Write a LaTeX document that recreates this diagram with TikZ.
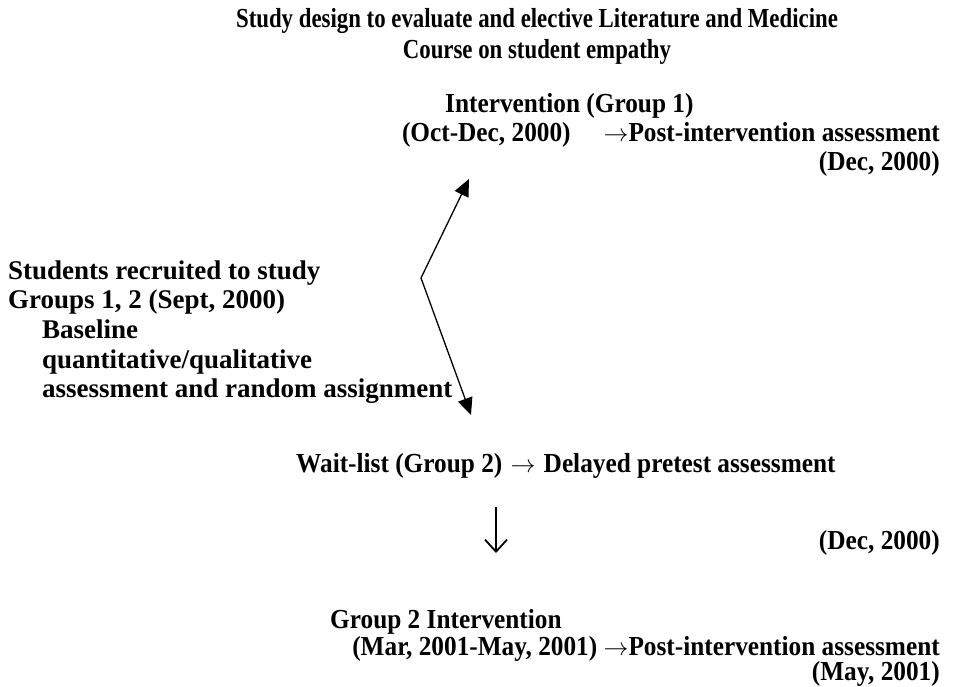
\documentclass[tikz,border=0pt]{standalone}
\usepackage{fontspec}
\setmainfont{Liberation Serif}
\newfontfamily\cond[FakeStretch=0.92]{Liberation Serif}
\newfontfamily\condt[FakeStretch=0.83]{Liberation Serif}
\usetikzlibrary{arrows.meta}
\begin{document}
\begin{tikzpicture}[x=1pt,y=-1pt,
  ttl/.style={inner sep=0pt,anchor=base,font=\condt\bfseries\fontsize{27.5}{30}\selectfont},
  txt/.style={inner sep=0pt,font=\cond\bfseries\fontsize{27.5}{30}\selectfont},
  lefttxt/.style={inner sep=0pt,anchor=base west,font=\bfseries\fontsize{27}{30}\selectfont},
  zig/.style={line width=1.3pt,-{Triangle[length=17pt,width=15pt]}},
  down/.style={line width=1.8pt,-{Straight Barb[length=12pt,width=22pt,line width=1.8pt]}}]
\useasboundingbox (0,0) rectangle (969,687);
% title
\node[ttl] (t1) at (537,28) {Study design to evaluate and elective Literature and Medicine};
\node[ttl] (t2) at (537,59) {Course on student empathy};
% group 1
\node[txt,anchor=base west] (int1) at (445,113) {Intervention (Group 1)};
\node[txt,anchor=base east] (oct) at (940,142) {(Oct-Dec, 2000)\hspace{1.2em}$\rightarrow$Post-intervention assessment};
\node[txt,anchor=base east] (dec1) at (940,171) {(Dec, 2000)};
% left block
\node[lefttxt] (s1) at (8,279) {Students recruited to study};
\node[lefttxt] (s2) at (8,308) {Groups 1, 2 (Sept, 2000)};
\node[lefttxt] (s3) at (42,338) {Baseline};
\node[lefttxt] (s4) at (42,368) {quantitative/qualitative};
\node[lefttxt] (s5) at (42,397) {assessment and random assignment};
% zigzag
\coordinate (apex) at (421,278);
\coordinate (uptip) at (469,179);
\coordinate (dntip) at (471,415);
\draw[zig] (apex) -- (uptip);
\draw[zig] (apex) -- (dntip);
% wait-list
\node[txt,anchor=base west] (wait) at (296,472) {Wait-list (Group 2)\hspace{0.3em}$\rightarrow$\hspace{0.3em}Delayed pretest assessment};
\coordinate (d1) at (496,507);
\coordinate (d2) at (496,553);
\draw[down] (d1) -- (d2);
\node[txt,anchor=base east] (dec2) at (940,549) {(Dec, 2000)};
% group 2
\node[txt,anchor=base west] (int2) at (330,628) {Group 2 Intervention};
\node[txt,anchor=base east] (mar) at (940,655) {(Mar, 2001-May, 2001) $\rightarrow$Post-intervention assessment};
\node[txt,anchor=base east] (may) at (940,680) {(May, 2001)};
\end{tikzpicture}
\end{document}
